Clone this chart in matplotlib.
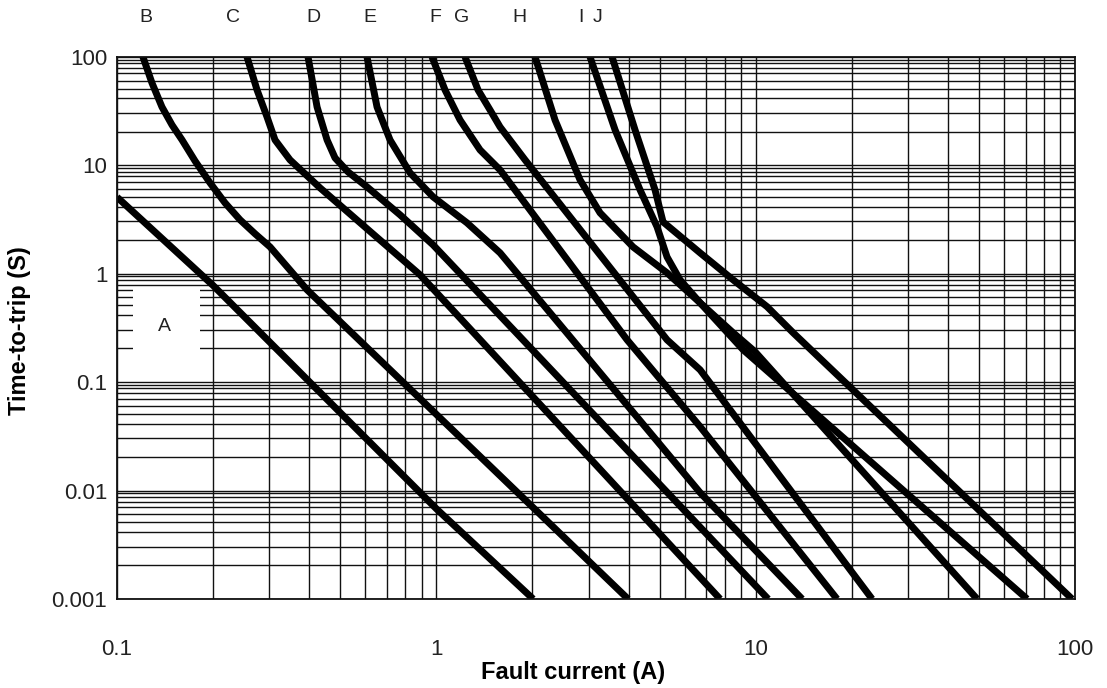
import matplotlib
matplotlib.use("Agg")
import matplotlib.pyplot as plt
import matplotlib.transforms as mtransforms
from matplotlib.patches import Rectangle
from matplotlib.ticker import FixedLocator, NullFormatter, LogLocator

plt.rcParams["font.family"] = ["Liberation Sans", "DejaVu Sans"]

# ---------------- data ----------------
A_x = [0.1, 0.2, 1.0, 2.01]
A_y = [5.1, 0.78, 0.0068, 0.001]

B_x = [0.1206, 0.1287, 0.1383, 0.1487, 0.1598, 0.1755, 0.1956, 0.2179,
       0.2428, 0.2706, 0.3015, 0.3936, 3.985]
B_y = [100, 57.6, 34.6, 23.6, 17.2, 11.0, 6.9, 4.51, 3.15, 2.34, 1.77, 0.712, 0.001]

C_x = [0.2554, 0.2745, 0.2950, 0.3125, 0.3482, 0.4324, 0.6025, 0.8890, 7.738]
C_y = [100, 49.65, 27.99, 17.18, 11.24, 6.20, 2.65, 0.979, 0.001]

D_x = [0.3965, 0.4232, 0.4548, 0.4817, 0.5290, 0.6067, 0.7697, 0.9765, 10.94]
D_y = [100, 34.59, 17.18, 11.73, 8.71, 6.33, 3.50, 1.85, 0.001]

E_x = [0.6067, 0.6521, 0.7162, 0.8274, 0.9765, 1.2478, 1.5831, 6.6988, 13.98]
E_y = [100, 34.59, 17.18, 8.53, 5.13, 2.95, 1.56, 0.00958, 0.001]

F_x = [0.9694, 1.0647, 1.1864, 1.3705, 1.5831, 3.9564, 6.6988, 17.98]
F_y = [100, 49.65, 26.26, 13.89, 9.09, 0.246, 0.0389, 0.001]

G_x = [1.2300, 1.3509, 1.4730, 1.5831, 1.8961, 5.2782, 6.6988, 23.15]
G_y = [100, 49.65, 32.47, 22.63, 11.24, 0.246, 0.130, 0.001]

H_x = [2.0381, 2.3532, 2.8184, 3.2560, 4.1305, 5.2782, 6.6988, 9.1334, 70.79]
H_y = [100, 26.26, 7.35, 3.65, 1.77, 1.02, 0.540, 0.1993, 0.001]

I_x = [3.0294, 3.6293, 4.3451, 4.9110, 5.2782, 5.7964, 6.6988, 8.4982, 9.957, 49.37]
I_y = [100, 21.24, 5.94, 2.71, 1.43, 0.880, 0.540, 0.286, 0.191, 0.001]

J_x = [3.5515, 4.1907, 4.8405, 5.1286, 6.6988, 8.4982, 10.86, 13.10, 97.9]
J_y = [100, 21.24, 5.94, 3.01, 1.56, 0.880, 0.497, 0.286, 0.001]

curves = [(A_x, A_y), (B_x, B_y), (C_x, C_y), (D_x, D_y), (E_x, E_y),
          (F_x, F_y), (G_x, G_y), (H_x, H_y), (I_x, I_y), (J_x, J_y)]

top_labels = ["B", "C", "D", "E", "F", "G", "H", "I", "J"]
top_label_x = [0.1232, 0.2308, 0.4110, 0.6199, 0.9906, 1.204, 1.816, 2.840, 3.209]

x_ticks = [0.1, 1, 10, 100]
x_tick_labels = ["0.1", "1", "10", "100"]
y_ticks = [0.001, 0.01, 0.1, 1, 10, 100]
y_tick_labels = ["0.001", "0.01", "0.1", "1", "10", "100"]
y_minor_steps = [2.05, 3.05, 4.15, 5.1, 6.05, 7.05, 7.9, 8.75, 9.45]

# ---------------- figure ----------------
W, H = 1107, 688
fig = plt.figure(figsize=(W / 100, H / 100), dpi=100)
ax = fig.add_axes([117 / W, (H - 599) / H, (1075 - 117) / W, (599 - 57) / H])

ax.set_xscale("log")
ax.set_yscale("log")
ax.set_xlim(0.1, 100)
ax.set_ylim(0.001, 100)

ax.xaxis.set_major_locator(FixedLocator(x_ticks))
ax.set_xticklabels(x_tick_labels)
ax.xaxis.set_minor_locator(LogLocator(base=10, subs=range(2, 10)))
ax.xaxis.set_minor_formatter(NullFormatter())

ax.yaxis.set_major_locator(FixedLocator(y_ticks))
ax.set_yticklabels(y_tick_labels)
y_minor = [d * s for d in [0.001, 0.01, 0.1, 1, 10] for s in y_minor_steps]
ax.yaxis.set_minor_locator(FixedLocator(y_minor))
ax.yaxis.set_minor_formatter(NullFormatter())

ax.tick_params(which="both", length=0)
ax.tick_params(axis="x", pad=29, labelsize=16, labelcolor="#222222")
ax.tick_params(axis="y", pad=7, labelsize=16, labelcolor="#222222")

ax.set_axisbelow(True)
ax.grid(which="both", color="#111111", linewidth=1.0)
for sp in ax.spines.values():
    sp.set_color("#111111")
    sp.set_linewidth(1.3)

# white box for label A
ax.add_patch(Rectangle((0.112, 0.17), 0.182 - 0.112, 0.75 - 0.17,
                       facecolor="white", edgecolor="none", zorder=1.5))
ax.text(0.1413, 0.325, "A", ha="center", va="center", fontsize=14, zorder=3,
        color="#222222")

for xs, ys in curves:
    ax.plot(xs, ys, color="black", linewidth=5.0, solid_joinstyle="round",
            solid_capstyle="butt", zorder=2)

trans = mtransforms.blended_transform_factory(ax.transData, fig.transFigure)
for name, xv in zip(top_labels, top_label_x):
    fig.text(xv, (H - 18) / H, name, transform=trans, ha="center", va="center",
             fontsize=14, color="#222222")

fig.text(573 / W, (H - 673) / H, "Fault current (A)", ha="center", va="center",
         fontsize=17, fontweight="bold")
fig.text(20 / W, (H - 331) / H, "Time-to-trip (S)", ha="center", va="center",
         rotation=90, fontsize=17, fontweight="bold")

fig.savefig("out.png", dpi=100)
